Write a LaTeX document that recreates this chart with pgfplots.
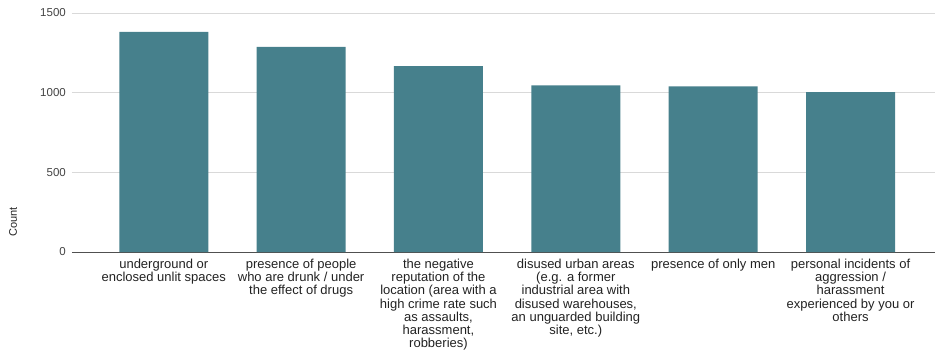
\documentclass[border=0pt]{standalone}
\usepackage{pgfplots}
\pgfplotsset{compat=1.18}
\usepackage{fontspec}
\setmainfont{Liberation Sans}
\definecolor{barcol}{RGB}{70,128,140}
\definecolor{gridcol}{RGB}{217,217,217}
\definecolor{axiscol}{RGB}{80,80,80}
\definecolor{tickcol}{RGB}{68,68,68}
\definecolor{labcol}{RGB}{34,34,34}
\begin{document}
\begin{tikzpicture}
\begin{axis}[
  scale only axis,
  width=863pt, height=239pt,
  xmin=-0.668, xmax=5.615,
  ymin=0, ymax=1500,
  ytick={0,500,1000,1500},
  xtick={0,1,2,3,4,5},
  xticklabels={
    {underground or\\enclosed unlit spaces},
    {presence of people\\who are drunk / under\\the effect of drugs},
    {the negative\\reputation of the\\location (area with a\\high crime rate such\\as assaults,\\harassment,\\robberies)},
    {disused urban areas\\(e.g. a former\\industrial area with\\disused warehouses,\\an unguarded building\\site, etc.)},
    {presence of only men},
    {personal incidents of\\aggression /\\harassment\\experienced by you or\\others}
  },
  xticklabel style={align=center, anchor=north, inner sep=0pt, yshift=-6.5pt,
    font=\fontsize{13}{13.3}\selectfont, text=labcol},
  yticklabel style={font=\fontsize{11.5}{13}\selectfont, text=tickcol, inner sep=0pt, xshift=-6pt},
  /pgf/number format/assume math mode=true,
  /pgf/number format/1000 sep={},
  scaled y ticks=false,
  major tick length=0pt,
  ymajorgrids, grid style={gridcol, line width=0.8pt},
  axis lines*=left,
  y axis line style={draw=none},
  x axis line style={axiscol, line width=1pt, -},
  ylabel={Count},
  ylabel style={at={(axis description cs:0,0.126)}, anchor=center, yshift=59pt,
    font=\fontsize{11}{13}\selectfont, text=labcol},
  clip=false,
]
\addplot[ybar, bar width=0.648, fill=barcol, draw=none] coordinates {
  (0,1382) (1,1287) (2,1166) (3,1046) (4,1040) (5,1004)
};
\end{axis}
\pgfresetboundingbox
\path (0,0) ++(-72pt,-99pt) rectangle (863pt,252pt);
\end{tikzpicture}
\end{document}
